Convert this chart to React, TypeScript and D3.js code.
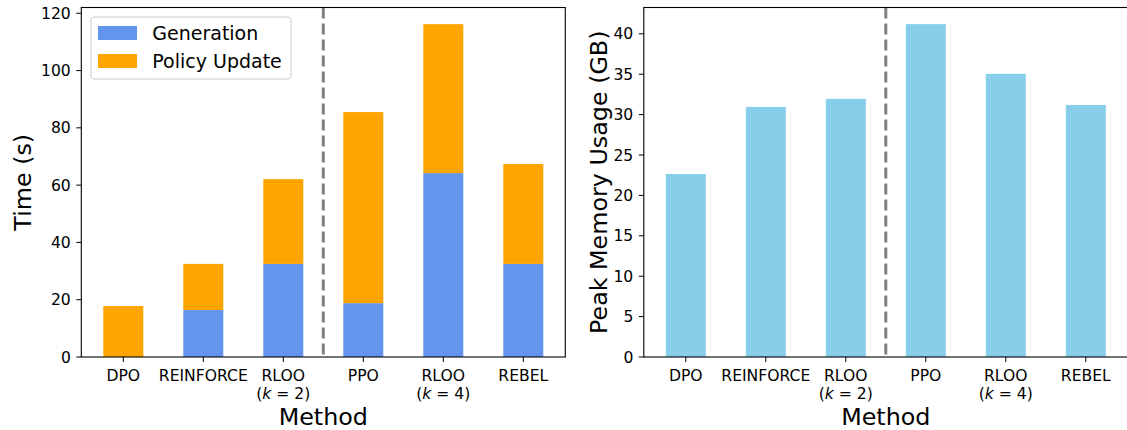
import React from "react";
import * as d3 from "d3";

const methods = ["DPO", "REINFORCE", "RLOO", "PPO", "RLOO", "REBEL"];
const kValues: (string | null)[] = [null, null, "2", null, "4", null];
const generation = [0, 16.4, 32.5, 18.8, 64.2, 32.5];
const policyUpdate = [17.8, 16.1, 29.6, 66.7, 52.0, 34.9];
const memory = [22.65, 30.95, 31.95, 41.2, 35.05, 31.2];
const timeTicks = [0, 20, 40, 60, 80, 100, 120];
const memTicks = [0, 5, 10, 15, 20, 25, 30, 35, 40];
const legendLabels = ["Generation", "Policy Update"];

const W = 1127;
const H = 430;
const TOP = 7.5;
const BOT = 357;
const FONT = "DejaVu Sans, sans-serif";
const TICK_FS = 15.6;
const LABEL_FS = 23.8;
const C_GEN = "#6495ED";
const C_POL = "#FFA500";
const C_MEM = "#87CEEB";
const BAR_W = 0.5;
const SPLIT = 2.5;

function XTicks({ x }: { x: d3.ScaleLinear<number, number> }) {
  return (
    <g>
      {methods.map((m, i) => (
        <g key={i}>
          <line x1={x(i)} x2={x(i)} y1={BOT} y2={BOT + 5} stroke="#000" strokeWidth={1} />
          <text x={x(i)} y={380.5} textAnchor="middle" fontSize={TICK_FS} fontFamily={FONT} fill="#000">
            {m}
          </text>
          {kValues[i] && (
            <text x={x(i)} y={398.5} textAnchor="middle" fontSize={TICK_FS} fontFamily={FONT} fill="#000">
              (<tspan fontStyle="italic">k</tspan>
              {" = " + kValues[i] + ")"}
            </text>
          )}
        </g>
      ))}
    </g>
  );
}

function YTicks({ y, ticks, x0 }: { y: d3.ScaleLinear<number, number>; ticks: number[]; x0: number }) {
  return (
    <g>
      {ticks.map((t) => (
        <g key={t}>
          <line x1={x0 - 5} x2={x0} y1={y(t)} y2={y(t)} stroke="#000" strokeWidth={1} />
          <text x={x0 - 10.5} y={y(t)} dy="0.36em" textAnchor="end" fontSize={TICK_FS} fontFamily={FONT} fill="#000">
            {t}
          </text>
        </g>
      ))}
    </g>
  );
}

export default function App() {
  // left panel
  const lx0 = 81.3, lx1 = 565.3;
  const xL = d3.scaleLinear().domain([-0.525, 5.525]).range([lx0, lx1]);
  const totals = generation.map((g, i) => g + policyUpdate[i]);
  const yL = d3.scaleLinear().domain([0, (d3.max(totals) as number) * 1.05]).range([BOT, TOP]);

  // right panel
  const rx0 = 643.8, rx1 = 1127.8;
  const xR = d3.scaleLinear().domain([-0.525, 5.525]).range([rx0, rx1]);
  const yR = d3.scaleLinear().domain([0, (d3.max(memory) as number) * 1.05]).range([BOT, TOP]);

  const bw = xL(BAR_W) - xL(0);
  const bwR = xR(BAR_W) - xR(0);

  return (
    <svg
      width={W}
      height={H}
      style={{ position: "absolute", left: 0, top: 0, background: "#fff" }}
      xmlns="http://www.w3.org/2000/svg"
    >
      <rect x={0} y={0} width={W} height={H} fill="#fff" />

      {/* Left panel */}
      <g>
        {methods.map((_, i) => (
          <g key={i}>
            <rect x={xL(i) - bw / 2} y={yL(generation[i])} width={bw} height={yL(0) - yL(generation[i])} fill={C_GEN} />
            <rect
              x={xL(i) - bw / 2}
              y={yL(totals[i])}
              width={bw}
              height={yL(generation[i]) - yL(totals[i])}
              fill={C_POL}
            />
          </g>
        ))}
        <line x1={xL(SPLIT)} x2={xL(SPLIT)} y1={TOP} y2={BOT} stroke="#808080" strokeWidth={3} strokeDasharray="11,5" />
        <rect x={lx0} y={TOP} width={lx1 - lx0} height={BOT - TOP} fill="none" stroke="#000" strokeWidth={1.1} />
        <YTicks y={yL} ticks={timeTicks} x0={lx0} />
        <XTicks x={xL} />
        <text x={(lx0 + lx1) / 2} y={424.5} textAnchor="middle" fontSize={LABEL_FS} fontFamily={FONT} fill="#000">
          Method
        </text>
        <text
          transform={`translate(30.5,${(TOP + BOT) / 2}) rotate(-90)`}
          textAnchor="middle"
          fontSize={LABEL_FS}
          fontFamily={FONT}
          fill="#000"
        >
          Time (s)
        </text>
        {/* legend */}
        <rect x={91} y={17} width={200} height={62} rx={3} fill="#fff" fillOpacity={0.8} stroke="#cccccc" strokeWidth={1} />
        {legendLabels.map((l, i) => (
          <g key={l}>
            <rect x={98} y={26 + i * 28} width={39} height={14} fill={i === 0 ? C_GEN : C_POL} />
            <text x={152.3} y={40 + i * 28} fontSize={19} fontFamily={FONT} fill="#000">
              {l}
            </text>
          </g>
        ))}
      </g>

      {/* Right panel */}
      <g>
        {memory.map((v, i) => (
          <rect key={i} x={xR(i) - bwR / 2} y={yR(v)} width={bwR} height={yR(0) - yR(v)} fill={C_MEM} />
        ))}
        <line x1={xR(SPLIT)} x2={xR(SPLIT)} y1={TOP} y2={BOT} stroke="#808080" strokeWidth={3} strokeDasharray="11,5" />
        <rect x={rx0} y={TOP} width={rx1 - rx0} height={BOT - TOP} fill="none" stroke="#000" strokeWidth={1.1} />
        <YTicks y={yR} ticks={memTicks} x0={rx0} />
        <XTicks x={xR} />
        <text x={(rx0 + rx1) / 2} y={424.5} textAnchor="middle" fontSize={LABEL_FS} fontFamily={FONT} fill="#000">
          Method
        </text>
        <text
          transform={`translate(607,${(TOP + BOT) / 2}) rotate(-90)`}
          textAnchor="middle"
          fontSize={LABEL_FS}
          fontFamily={FONT}
          fill="#000"
        >
          Peak Memory Usage (GB)
        </text>
      </g>
    </svg>
  );
}
